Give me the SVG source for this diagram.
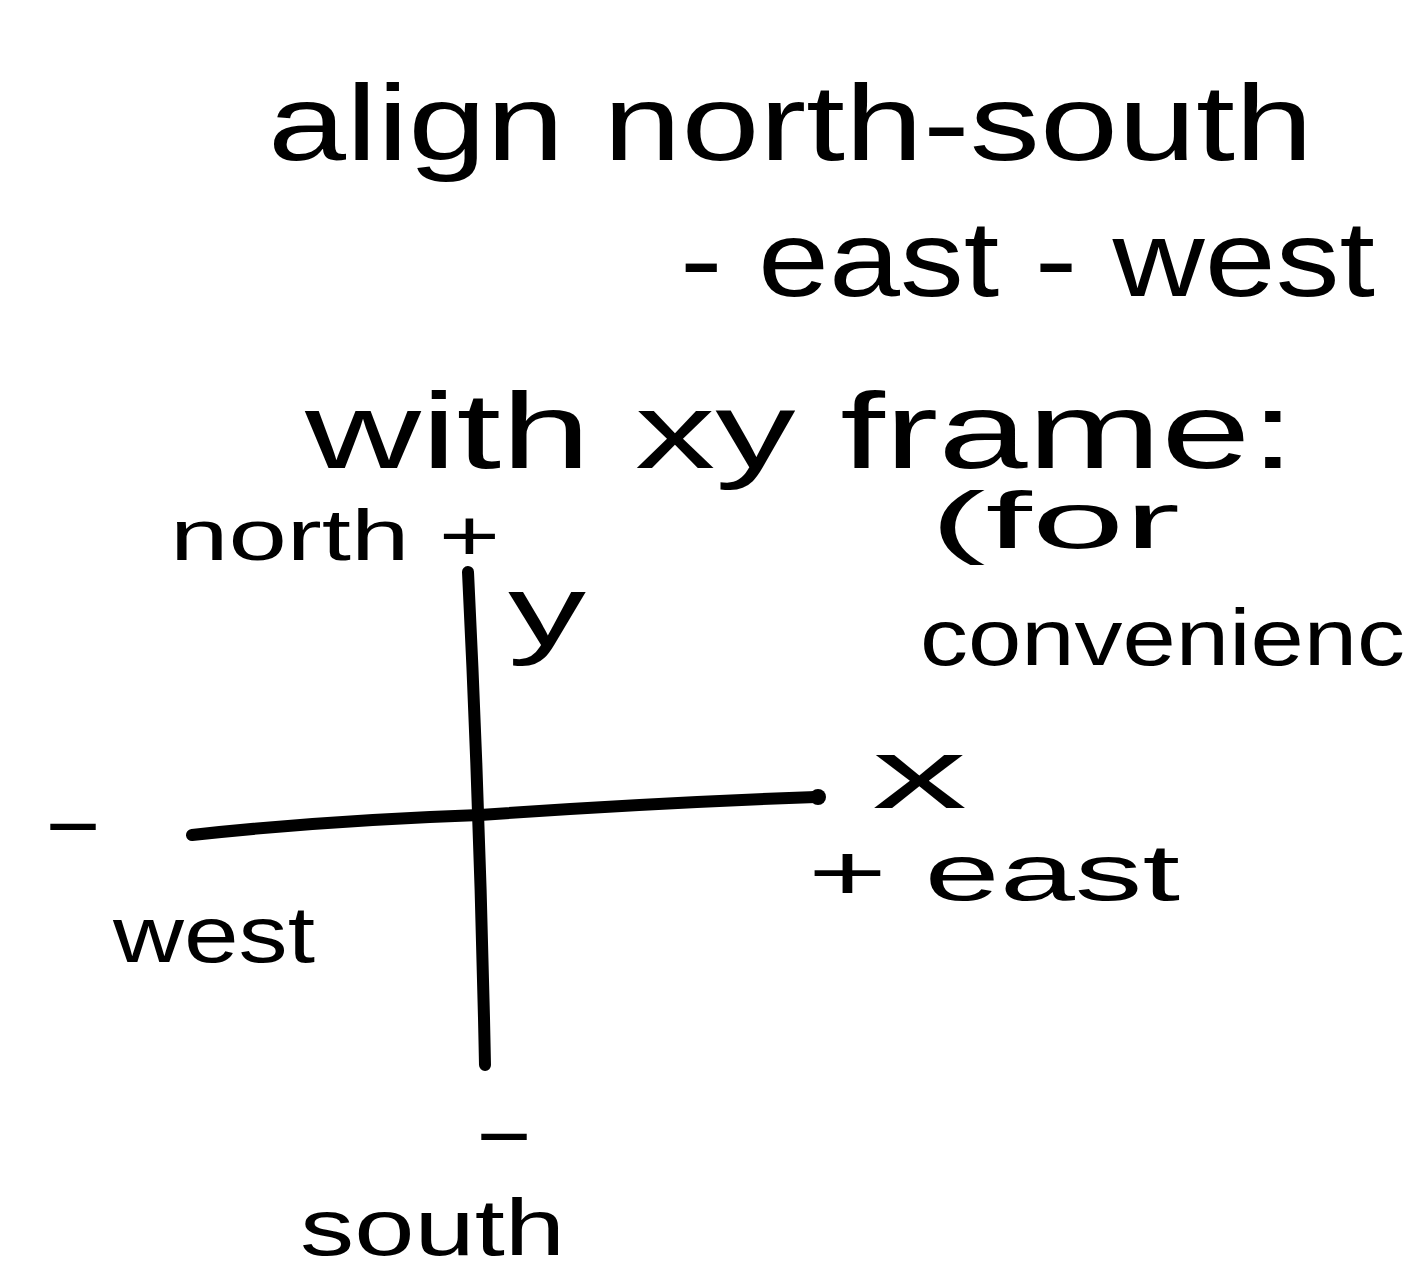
<svg xmlns="http://www.w3.org/2000/svg" width="1416" height="1280" viewBox="0 0 1416 1280">
<style>
.t{font-family:"Liberation Sans","DejaVu Sans",sans-serif;fill:#000}
.ax{stroke:#000;stroke-width:12;fill:none;stroke-linecap:round}
</style>
<rect width="1416" height="1280" fill="#fff"/>
<g id="title">
<text class="t" x="268" y="160" font-size="108" textLength="1045" lengthAdjust="spacingAndGlyphs">align north-south</text>
<text class="t" x="680" y="296" font-size="108" textLength="695" lengthAdjust="spacingAndGlyphs">- east - west</text>
<text class="t" x="305" y="468" font-size="108" textLength="990" lengthAdjust="spacingAndGlyphs">with xy frame:</text>
<text class="t" x="930" y="548" font-size="80" textLength="250" lengthAdjust="spacingAndGlyphs">(for</text>
<text class="t" x="920" y="665" font-size="80" textLength="485" lengthAdjust="spacingAndGlyphs">convenienc</text>
</g>
<g id="connectors">
<path class="ax" d="M468,572 Q480,815 485,1065"/>
<path class="ax" d="M192,835 Q330,820 480,815 Q650,803 816,797"/>
<circle cx="818" cy="797" r="8"/>
</g>
<g id="north"><text class="t" x="170" y="560" font-size="72" textLength="330" lengthAdjust="spacingAndGlyphs">north +</text></g>
<g id="y-label"><text class="t" x="508" y="645" font-size="100" textLength="78" lengthAdjust="spacingAndGlyphs">y</text></g>
<g id="x-label"><text class="t" x="872" y="808" font-size="100" textLength="95" lengthAdjust="spacingAndGlyphs">x</text></g>
<g id="east"><text class="t" x="808" y="900" font-size="80" textLength="372" lengthAdjust="spacingAndGlyphs">+  east</text></g>
<g id="west-minus"><text class="t" x="42" y="848" font-size="80" textLength="62" lengthAdjust="spacingAndGlyphs">-</text></g>
<g id="west"><text class="t" x="113" y="962" font-size="80" textLength="202" lengthAdjust="spacingAndGlyphs">west</text></g>
<g id="south-minus"><text class="t" x="473" y="1158" font-size="80" textLength="62" lengthAdjust="spacingAndGlyphs">-</text></g>
<g id="south"><text class="t" x="300" y="1255" font-size="80" textLength="265" lengthAdjust="spacingAndGlyphs">south</text></g>
</svg>
